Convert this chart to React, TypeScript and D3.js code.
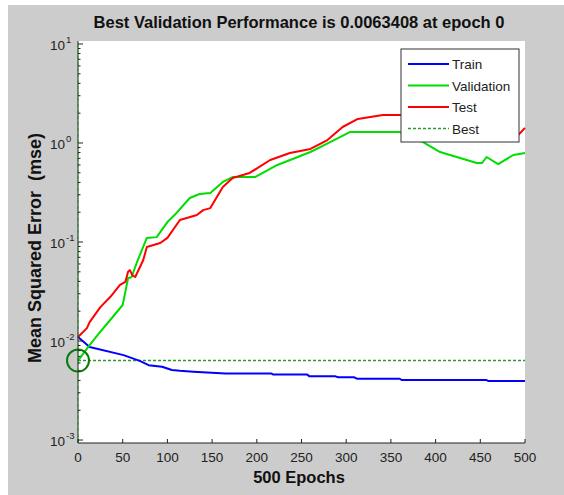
import * as d3 from 'd3'

// training record (epoch, mse)
const trainEpochs = [0, 13, 51, 69, 79, 94, 105, 114, 129, 165, 216, 218, 256, 259, 288, 291, 309, 312, 360, 362, 457, 459, 500]
const trainMse = [0.011, 0.0087, 0.0072, 0.0063, 0.0057, 0.0055, 0.0051, 0.005, 0.0049, 0.0047, 0.0047, 0.0046, 0.0046, 0.0044, 0.0044, 0.0043, 0.0043, 0.00416, 0.00416, 0.00404, 0.00404, 0.00394, 0.00394]

const valEpochs = [0, 13, 23, 36, 50, 56, 60, 66, 77, 88, 100, 108, 125, 136, 148, 162, 173, 198, 223, 260, 282, 304, 360, 386, 405, 446, 452, 457, 470, 487, 500]
const valMse = [0.00634, 0.0091, 0.0118, 0.0163, 0.0231, 0.043, 0.0443, 0.0628, 0.11, 0.112, 0.159, 0.187, 0.278, 0.305, 0.313, 0.404, 0.453, 0.453, 0.6, 0.811, 1.02, 1.29, 1.29, 1.02, 0.81, 0.628, 0.628, 0.722, 0.613, 0.756, 0.792]

const testEpochs = [0, 10, 13, 25, 36, 47, 53, 56, 58, 61, 64, 73, 77, 92, 100, 114, 133, 140, 148, 162, 173, 192, 215, 237, 260, 279, 296, 313, 341, 360, 400, 440, 475, 493, 500]
const testMse = [0.011, 0.0135, 0.0155, 0.022, 0.0278, 0.0368, 0.0395, 0.05, 0.052, 0.046, 0.0443, 0.0658, 0.089, 0.0977, 0.11, 0.167, 0.187, 0.21, 0.22, 0.36, 0.443, 0.498, 0.673, 0.793, 0.87, 1.07, 1.45, 1.75, 1.92, 1.92, 1.85, 1.6, 1.3, 1.22, 1.42]

const bestEpoch = 0
const bestMse = 0.0063408

const xTicks = [0, 50, 100, 150, 200, 250, 300, 350, 400, 450, 500]
const yExponents = [-3, -2, -1, 0, 1]

const legendItems = [
  { label: 'Train', color: '#0000ff', dash: null },
  { label: 'Validation', color: '#00dd00', dash: null },
  { label: 'Test', color: '#ff0000', dash: null },
  { label: 'Best', color: '#2e9a2e', dash: '3,2' },
]

const W = 564
const H = 495
const FONT = '"Liberation Sans", Arial, sans-serif'

export default function App() {
  const x = d3.scaleLinear().domain([0, 500]).range([78, 525])
  const y = d3.scaleLog().domain([Math.pow(10, -3.03), Math.pow(10, 1.03)]).range([443, 41])

  const line = d3.line<[number, number]>()
    .x(d => x(d[0]))
    .y(d => y(d[1]))

  const series = [
    { pts: trainEpochs.map((e, i) => [e, trainMse[i]] as [number, number]), color: '#0000ff' },
    { pts: valEpochs.map((e, i) => [e, valMse[i]] as [number, number]), color: '#00dd00' },
    { pts: testEpochs.map((e, i) => [e, testMse[i]] as [number, number]), color: '#ff0000' },
  ]

  const minorTicks: number[] = []
  for (let k = -3; k < 1; k++) {
    for (let m = 2; m <= 9; m++) minorTicks.push(m * Math.pow(10, k))
  }

  const [x0, x1] = x.range()
  const [yb, yt] = y.range()

  return (
    <div style={{ position: 'absolute', left: 0, top: 0 }}>
      <svg width={W} height={H} style={{ display: 'block' }} fontFamily={FONT}>
        <rect x={0} y={0} width={W} height={H} fill="#ffffff" />
        <rect x={8} y={5} width={W - 8} height={H - 5} fill="#cccccc" />
        <rect x={x0} y={yt} width={x1 - x0} height={yb - yt} fill="#ffffff" />

        {/* best marker */}
        <line x1={x0} x2={x1} y1={y(bestMse)} y2={y(bestMse)} stroke="#2e9a2e" strokeWidth={1.5} strokeDasharray="3,2" />

        {series.map((s, i) => (
          <path key={i} d={line(s.pts) ?? ''} fill="none" stroke={s.color} strokeWidth={2} strokeLinejoin="round" />
        ))}

        <circle cx={x(bestEpoch)} cy={y(bestMse)} r={11} fill="none" stroke="#0b7a0b" strokeWidth={2} />

        {/* axes */}
        <line x1={x0} x2={x1} y1={yb} y2={yb} stroke="#222" strokeWidth={1} />
        <line x1={x0} x2={x0} y1={yb} y2={yt} stroke="#222" strokeWidth={1} />
        <line x1={x(bestEpoch)} x2={x(bestEpoch)} y1={yb} y2={yt} stroke="#2e9a2e" strokeWidth={1.2} strokeDasharray="3,3" />

        {xTicks.map(t => (
          <g key={t}>
            <line x1={x(t)} x2={x(t)} y1={yb} y2={yb - 4} stroke="#222" />
            <text x={x(t)} y={462} textAnchor="middle" fontSize={13.5} fill="#222">{t}</text>
          </g>
        ))}

        {minorTicks.map((t, i) => (
          <line key={i} x1={x0} x2={x0 + 2.5} y1={y(t)} y2={y(t)} stroke="#222" />
        ))}

        {yExponents.map(k => {
          const v = Math.pow(10, k)
          return (
            <g key={k}>
              <line x1={x0} x2={x0 + 5} y1={y(v)} y2={y(v)} stroke="#222" />
              <text x={65} y={y(v) + 6} textAnchor="end" fontSize={13.5} fill="#222">10</text>
              <text x={66} y={y(v) - 1} fontSize={9.5} fill="#222">{k}</text>
            </g>
          )
        })}

        {/* titles */}
        <text x={299} y={28} textAnchor="middle" fontSize={16.5} fontWeight="bold" fill="#111">
          Best Validation Performance is 0.0063408 at epoch 0
        </text>
        <text x={299} y={483} textAnchor="middle" fontSize={16.5} fontWeight="bold" fill="#111">
          500 Epochs
        </text>
        <text transform="translate(41,248) rotate(-90)" textAnchor="middle" fontSize={18} fontWeight="bold" fill="#111" xmlSpace="preserve">
          Mean Squared Error  (mse)
        </text>

        {/* legend */}
        <rect x={401} y={49} width={118} height={93} fill="#ffffff" stroke="#333" strokeWidth={1} />
        {legendItems.map((d, i) => {
          const ly = 64 + i * 21.5
          return (
            <g key={d.label}>
              <line x1={408} x2={449} y1={ly} y2={ly} stroke={d.color} strokeWidth={d.dash ? 1.5 : 2} strokeDasharray={d.dash ?? undefined} />
              <text x={452} y={ly + 5} fontSize={13.5} fill="#222">{d.label}</text>
            </g>
          )
        })}
      </svg>
    </div>
  )
}
